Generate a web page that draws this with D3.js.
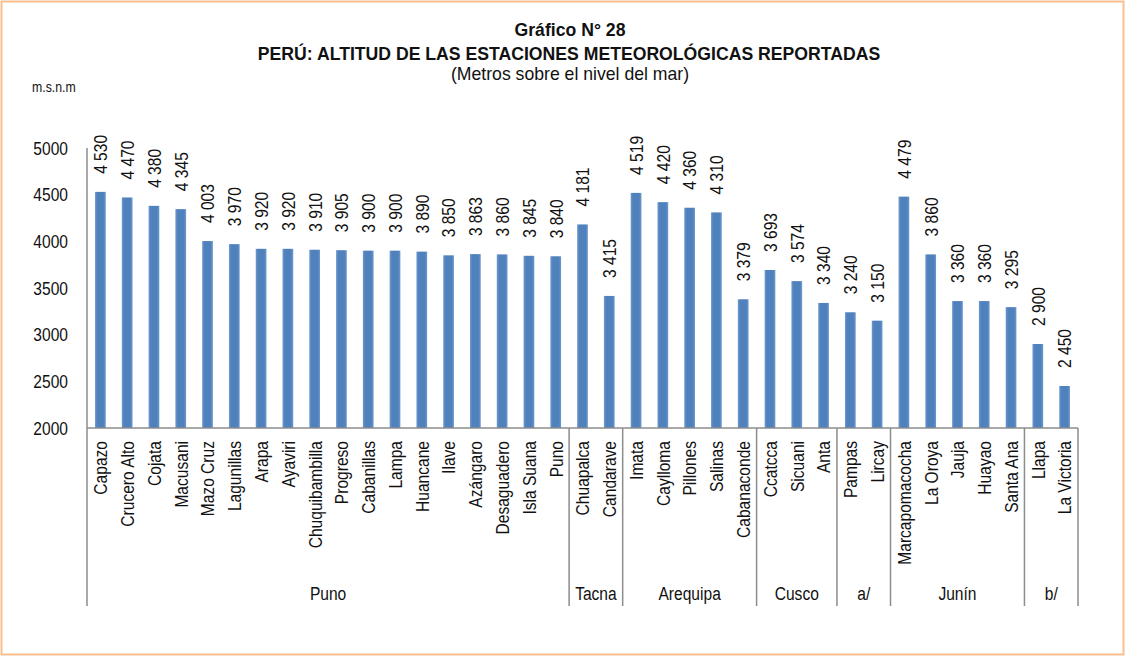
<!DOCTYPE html>
<html>
<head>
<meta charset="utf-8">
<script src="https://cdn.jsdelivr.net/npm/d3@7"></script>
<style>
  body { margin: 0; background: #fff; }
  text { font-family: "Liberation Sans", Arial, sans-serif; fill: #111; }
</style>
</head>
<body>
<script>
// stations and altitudes (m.s.n.m)
const stations = ['Capazo', 'Crucero Alto', 'Cojata', 'Macusani', 'Mazo Cruz', 'Lagunillas', 'Arapa', 'Ayaviri',
  'Chuquibambilla', 'Progreso', 'Cabanillas', 'Lampa', 'Huancane', 'Ilave', 'Azángaro', 'Desaguadero', 'Isla Suana', 'Puno',
  'Chuapalca', 'Candarave',
  'Imata', 'Caylloma', 'Pillones', 'Salinas', 'Cabanaconde',
  'Ccatcca', 'Sicuani', 'Anta',
  'Pampas', 'Lircay',
  'Marcapomacocha', 'La Oroya', 'Jauja', 'Huayao', 'Santa Ana',
  'Llapa', 'La Victoria']
const altitudes = [4530, 4470, 4380, 4345, 4003, 3970, 3920, 3920, 3910, 3905, 3900, 3900, 3890, 3850, 3863, 3860, 3845, 3840,
  4181, 3415,
  4519, 4420, 4360, 4310, 3379,
  3693, 3574, 3340,
  3240, 3150,
  4479, 3860, 3360, 3360, 3295,
  2900, 2450]
const groups = ['Puno', 'Tacna', 'Arequipa', 'Cusco', 'a/', 'Junín', 'b/']
const groupSizes = [18, 2, 5, 3, 2, 5, 2]
const yTicks = [2000, 2500, 3000, 3500, 4000, 4500, 5000]

const width = 1125
const height = 656
const plotLeft = 87, plotRight = 1078, plotTop = 148, base = 428, bottomLine = 606
// narrow look: squeeze the text horizontally like Arial Narrow
const sq = 0.82

const svg = d3.select('body').append('svg')
  .attr('width', width)
  .attr('height', height)

// border
svg.append('rect')
  .attr('x', 1.5).attr('y', 1.5)
  .attr('width', width - 3).attr('height', height - 3)
  .attr('fill', '#fff')
  .attr('stroke', '#f9bf91')
  .attr('stroke-width', 2)

function label(x, y, txt, size, opts = {}) {
  return svg.append('text')
    .attr('transform', `translate(${x},${y}) scale(${opts.sq || sq},1)`)
    .attr('text-anchor', opts.anchor || 'start')
    .style('font-size', size + 'px')
    .style('font-weight', opts.bold ? 'bold' : 'normal')
    .text(txt)
}

// titles
label(570, 36, 'Gráfico N° 28', 18, {anchor: 'middle', bold: true, sq: 0.98})
label(569, 60, 'PERÚ: ALTITUD DE LAS ESTACIONES METEOROLÓGICAS REPORTADAS', 18, {anchor: 'middle', bold: true, sq: 0.98})
label(570, 80, '(Metros sobre el nivel del mar)', 18, {anchor: 'middle', sq: 0.98})
label(32, 92, 'm.s.n.m', 15)

const x = d3.scaleBand()
  .domain(stations)
  .range([plotLeft, plotRight])
  .paddingInner(0.6)
  .paddingOuter(0.3)

const y = d3.scaleLinear()
  .domain([2000, 5000])
  .range([base, plotTop])

// gradient for bars
const grad = svg.append('defs').append('linearGradient')
  .attr('id', 'barGrad').attr('x1', '0%').attr('x2', '100%')
grad.append('stop').attr('offset', '0%').attr('stop-color', '#7099cc')
grad.append('stop').attr('offset', '22%').attr('stop-color', '#4f81bd')
grad.append('stop').attr('offset', '78%').attr('stop-color', '#4f81bd')
grad.append('stop').attr('offset', '100%').attr('stop-color', '#7099cc')

const yAxis = d3.axisLeft(y).tickValues(yTicks).tickSize(0).tickPadding(19).tickFormat(d3.format('d'))
const ax = svg.append('g')
  .attr('transform', `translate(${plotLeft},0)`)
  .call(yAxis)
ax.select('.domain').remove()
ax.selectAll('text')
  .attr('x', 0)
  .attr('transform', `translate(-19,0) scale(${sq},1)`)
  .style('font-size', '19px')
  .style('font-family', '"Liberation Sans", Arial, sans-serif')
  .attr('fill', '#111')

const data = stations.map((s, i) => ({name: s, value: altitudes[i]}))

svg.append('g').selectAll('rect')
  .data(data)
  .enter()
  .append('rect')
  .attr('x', d => x(d.name))
  .attr('y', d => y(d.value))
  .attr('width', x.bandwidth())
  .attr('height', d => base - y(d.value))
  .attr('fill', 'url(#barGrad)')

const fmt = v => d3.format(',')(v).replace(',', ' ')

// value labels
svg.append('g').selectAll('text')
  .data(data)
  .enter()
  .append('text')
  .attr('transform', d => `translate(${x(d.name) + x.bandwidth() / 2},${y(d.value) - 18}) rotate(-90) scale(${sq},1)`)
  .attr('dy', '0.36em')
  .style('font-size', '19px')
  .text(d => fmt(d.value))

// category labels
svg.append('g').selectAll('text')
  .data(data)
  .enter()
  .append('text')
  .attr('transform', d => `translate(${x(d.name) + x.bandwidth() / 2},441) rotate(-90) scale(${sq},1)`)
  .attr('dy', '0.36em')
  .attr('text-anchor', 'end')
  .style('font-size', '19px')
  .text(d => d.name)

// axis lines
svg.append('line').attr('x1', plotLeft).attr('x2', plotRight).attr('y1', base).attr('y2', base)
  .attr('stroke', '#8c8c8c').attr('stroke-width', 1.5)
svg.append('line').attr('x1', plotLeft).attr('x2', plotLeft).attr('y1', plotTop).attr('y2', bottomLine)
  .attr('stroke', '#8c8c8c').attr('stroke-width', 1.5)

// group separators and labels
let start = 0
groupSizes.forEach((n, i) => {
  const x0 = x(stations[start]) - x.step() * x.paddingInner() / 2
  const x1 = x(stations[start + n - 1]) + x.bandwidth() + x.step() * x.paddingInner() / 2
  svg.append('line').attr('x1', x1).attr('x2', x1).attr('y1', base).attr('y2', bottomLine)
    .attr('stroke', '#8c8c8c').attr('stroke-width', 1.5)
  label((x0 + x1) / 2, 600, groups[i], 19, {anchor: 'middle'})
  start += n
})
</script>
</body>
</html>
